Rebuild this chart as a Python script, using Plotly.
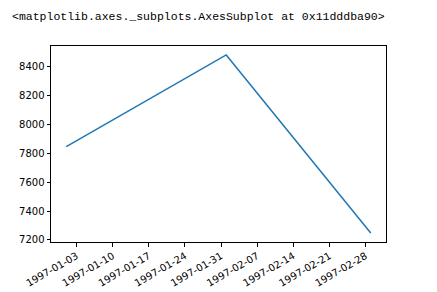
import plotly.graph_objects as go

dates = ["1997-01-01", "1997-02-01", "1997-03-01"]
values = [7847, 8481, 7248]
x_ticks = ["1997-01-03", "1997-01-10", "1997-01-17", "1997-01-24", "1997-01-31",
           "1997-02-07", "1997-02-14", "1997-02-21", "1997-02-28"]
y_ticks = [7200, 7400, 7600, 7800, 8000, 8200, 8400]
header = "<matplotlib.axes._subplots.AxesSubplot at 0x11dddba90>"

fig = go.Figure(go.Scatter(x=dates, y=values, mode="lines",
                           line=dict(color="#1f77b4", width=1.5)))

fig.update_layout(
    width=437, height=292,
    margin=dict(l=51, r=51, t=46, b=50, autoexpand=False),
    paper_bgcolor="white", plot_bgcolor="white",
    showlegend=False,
    title=dict(text=header.replace("<", "&lt;").replace(">", "&gt;"),
               x=12/437, xanchor="left", xref="container",
               y=1 - 16/292, yanchor="middle", yref="container",
               font=dict(family="Liberation Mono", size=11.5, color="#000")),
    font=dict(family="DejaVu Sans", size=10, color="#000"),
)
fig.update_xaxes(
    type="date", range=["1996-12-29 01:00", "1997-03-03 23:00"],
    tickvals=x_ticks, ticktext=x_ticks, tickangle=-30,
    showgrid=False, zeroline=False, showline=True, linecolor="black", linewidth=1,
    mirror=True, ticks="outside", ticklen=3.5, tickwidth=0.8, tickcolor="black",
    automargin=False,
)
fig.update_yaxes(
    range=[7186, 8543], tickvals=y_ticks,
    showgrid=False, zeroline=False, showline=True, linecolor="black", linewidth=1,
    mirror=True, ticks="outside", ticklen=3.5, tickwidth=0.8, tickcolor="black",
    automargin=False,
)

fig.write_html("out.html")
